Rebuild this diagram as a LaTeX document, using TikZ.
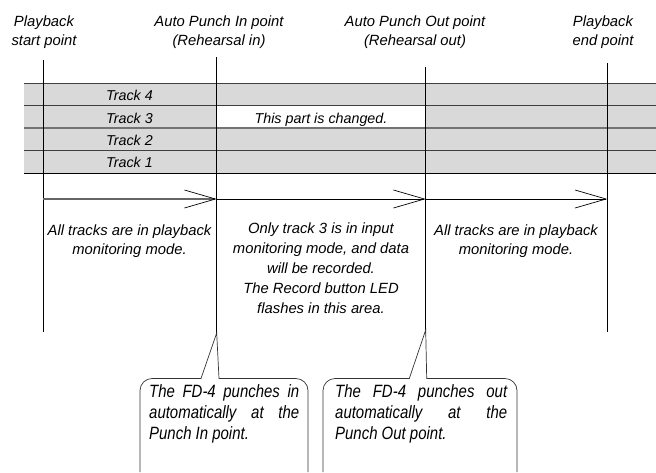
\documentclass[tikz,border=0pt]{standalone}
\usepackage{fontspec}
\setmainfont{Liberation Sans}
\newfontfamily\callfont[FakeStretch=0.84]{Liberation Sans}
\usetikzlibrary{arrows.meta}
\begin{document}
\begin{tikzpicture}[x=1pt,y=-1pt,
  lbl/.style={font=\fontsize{14.8}{19.5}\selectfont\itshape, align=center, inner sep=0pt, anchor=base},
  trk/.style={font=\fontsize{14.3}{16}\selectfont\itshape, inner sep=0pt, anchor=base},
  desc/.style={font=\fontsize{14.8}{18.5}\selectfont\itshape, align=center, inner sep=0pt, anchor=base},
  descmid/.style={font=\fontsize{14.8}{20}\selectfont\itshape, align=center, inner sep=0pt, anchor=base},
  marker/.style={draw=black, line width=0.8pt},
  rowline/.style={draw=black!75, line width=0.8pt},
  rowmid/.style={draw=black!55, line width=1.3pt},
  rowbot/.style={draw=black, line width=1pt},
  flow/.style={draw=black, line width=0.7pt, -{Straight Barb[length=31pt,width=18pt]}},
  callout/.style={draw=black!80, line width=0.7pt},
  calltext/.style={font=\callfont\fontsize{17.8}{21}\selectfont\itshape, inner sep=0pt, anchor=base west, align=left}
]
\useasboundingbox (0,0) rectangle (656,472);

% track band
\fill[black!15] (24,83) rectangle (656,173);
\fill[white] (216.7,105) rectangle (425.7,128);
\draw[rowline] (24,83) -- (656,83);
\draw[rowline] (24,105) -- (656,105);
\draw[rowmid] (24,128) -- (656,128);
\draw[rowline] (24,150) -- (656,150);
\draw[rowbot] (24,173.3) -- (656,173.3);

% marker coordinates
\coordinate (s0) at (43,60);     \coordinate (s1) at (43,332);
\coordinate (i0) at (216.7,57);  \coordinate (itip) at (216.7,333);
\coordinate (o0) at (425.7,67);  \coordinate (otip) at (425.7,330);
\coordinate (e0) at (607.3,63);  \coordinate (e1) at (607.3,332);

\draw[marker] (s0) -- (s1);
\draw[marker] (i0) -- (itip);
\draw[marker] (o0) -- (otip);
\draw[marker] (e0) -- (e1);

% arrows
\coordinate (a0) at (43,199);
\coordinate (a1) at (216.7,199);
\coordinate (a2) at (425.7,199);
\coordinate (a3) at (607.3,199);
\draw[flow, draw=black!60, line width=1.1pt, -{Straight Barb[length=31pt,width=18pt,color=black,line width=0.7pt]}] (a0) -- (a1);
\draw[flow] (a1) -- (a2);
\draw[flow] (a2) -- (a3);

% header labels (anchor = baseline of last line)
\node[lbl] (hs) at (44,45.5) {Playback\\start point};
\node[lbl] (hi) at (219,45.5) {Auto Punch In point\\(Rehearsal in)};
\node[lbl] (ho) at (415,45.5) {Auto Punch Out point\\(Rehearsal out)};
\node[lbl] (he) at (603,45.5) {Playback\\end point};

% track labels
\node[trk] (t4) at (129.5,100) {Track 4};
\node[trk] (t3) at (129.5,123) {Track 3};
\node[trk] (t2) at (129.5,145.5) {Track 2};
\node[trk] (t1) at (129.5,167.7) {Track 1};
\node[trk] (chg) at (321,123) {This part is changed.};

% descriptions
\node[desc] (d1) at (129.5,254) {All tracks are in playback\\monitoring mode.};
\node[descmid] (d2) at (321,313.5) {Only track 3 is in input\\monitoring mode, and data\\will be recorded.\\The Record button LED\\flashes in this area.};
\node[desc] (d3) at (516,254) {All tracks are in playback\\monitoring mode.};

% callouts
\draw[callout] (140,472) -- (140,390.5) arc[start angle=180,end angle=270,radius=12]
  -- (201,378.5) -- (itip) -- (219,378.5) -- (296,378.5)
  arc[start angle=270,end angle=360,radius=12] -- (308,472);
\draw[callout] (323,472) -- (323,390.5) arc[start angle=180,end angle=270,radius=12]
  -- (409.3,378.5) -- (otip) -- (426.7,378.5) -- (505,378.5)
  arc[start angle=270,end angle=360,radius=12] -- (517,472);

\node[calltext] (c1) at (149,439.5) {\makebox[150pt][s]{The FD-4 punches in}\\\makebox[150pt][s]{automatically at the}\\Punch In point.};
\node[calltext] (c2) at (335,439.5) {\makebox[172pt][s]{The FD-4 punches out}\\\makebox[172pt][s]{automatically at the}\\Punch Out point.};
\end{tikzpicture}
\end{document}
